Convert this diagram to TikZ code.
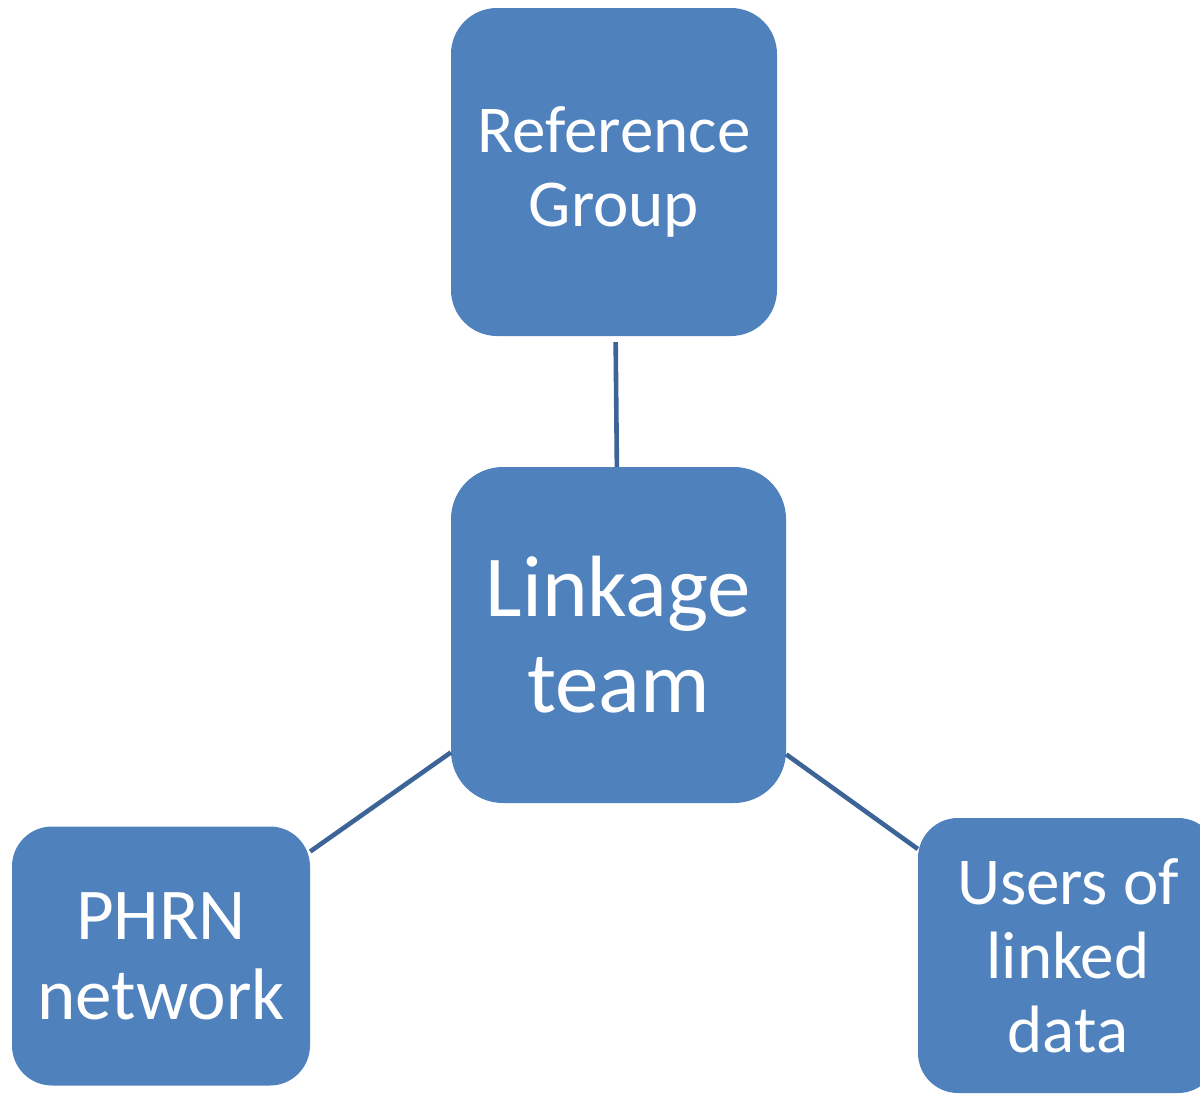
\documentclass[tikz,border=0pt]{standalone}
\usepackage{fontspec}
\setmainfont{Carlito}
\usetikzlibrary{positioning}
\definecolor{boxblue}{HTML}{4F81BD}
\definecolor{linkblue}{HTML}{3C6496}
\tikzstyle{teambox} = [fill=boxblue, text=white, rectangle, rounded corners=46pt, inner sep=0pt, align=center, font=\fontsize{67}{74}\selectfont]
\tikzstyle{bigbox} = [teambox, rounded corners=52pt, font=\fontsize{87}{96}\selectfont]
\tikzstyle{tie} = [draw=linkblue, line width=4.6pt]

\begin{document}
\begin{tikzpicture}[x=1pt, y=-1pt]
\useasboundingbox (0,0) rectangle (1200,1093);
\clip (0,0) rectangle (1200,1093);
\node [teambox, minimum width=326pt, minimum height=328pt] (refgroup) at (614,172) {Reference\\Group};
\node [bigbox, minimum width=335pt, minimum height=336pt] (linkage) at (618.5,635) {Linkage\\team};
\node [teambox, rounded corners=40pt, minimum width=298pt, minimum height=259pt, font=\fontsize{73}{80}\selectfont] (phrn) at (161,956) {PHRN\\network};
\node [teambox, rounded corners=40pt, minimum width=300pt, minimum height=275pt] (users) at (1068,955.5) {Users of\\linked\\data};
\draw [tie, shorten <=6pt] (refgroup) -- (linkage);
\draw [tie] (linkage) -- (phrn);
\draw [tie] (linkage) -- (users);
\end{tikzpicture}
\end{document}
